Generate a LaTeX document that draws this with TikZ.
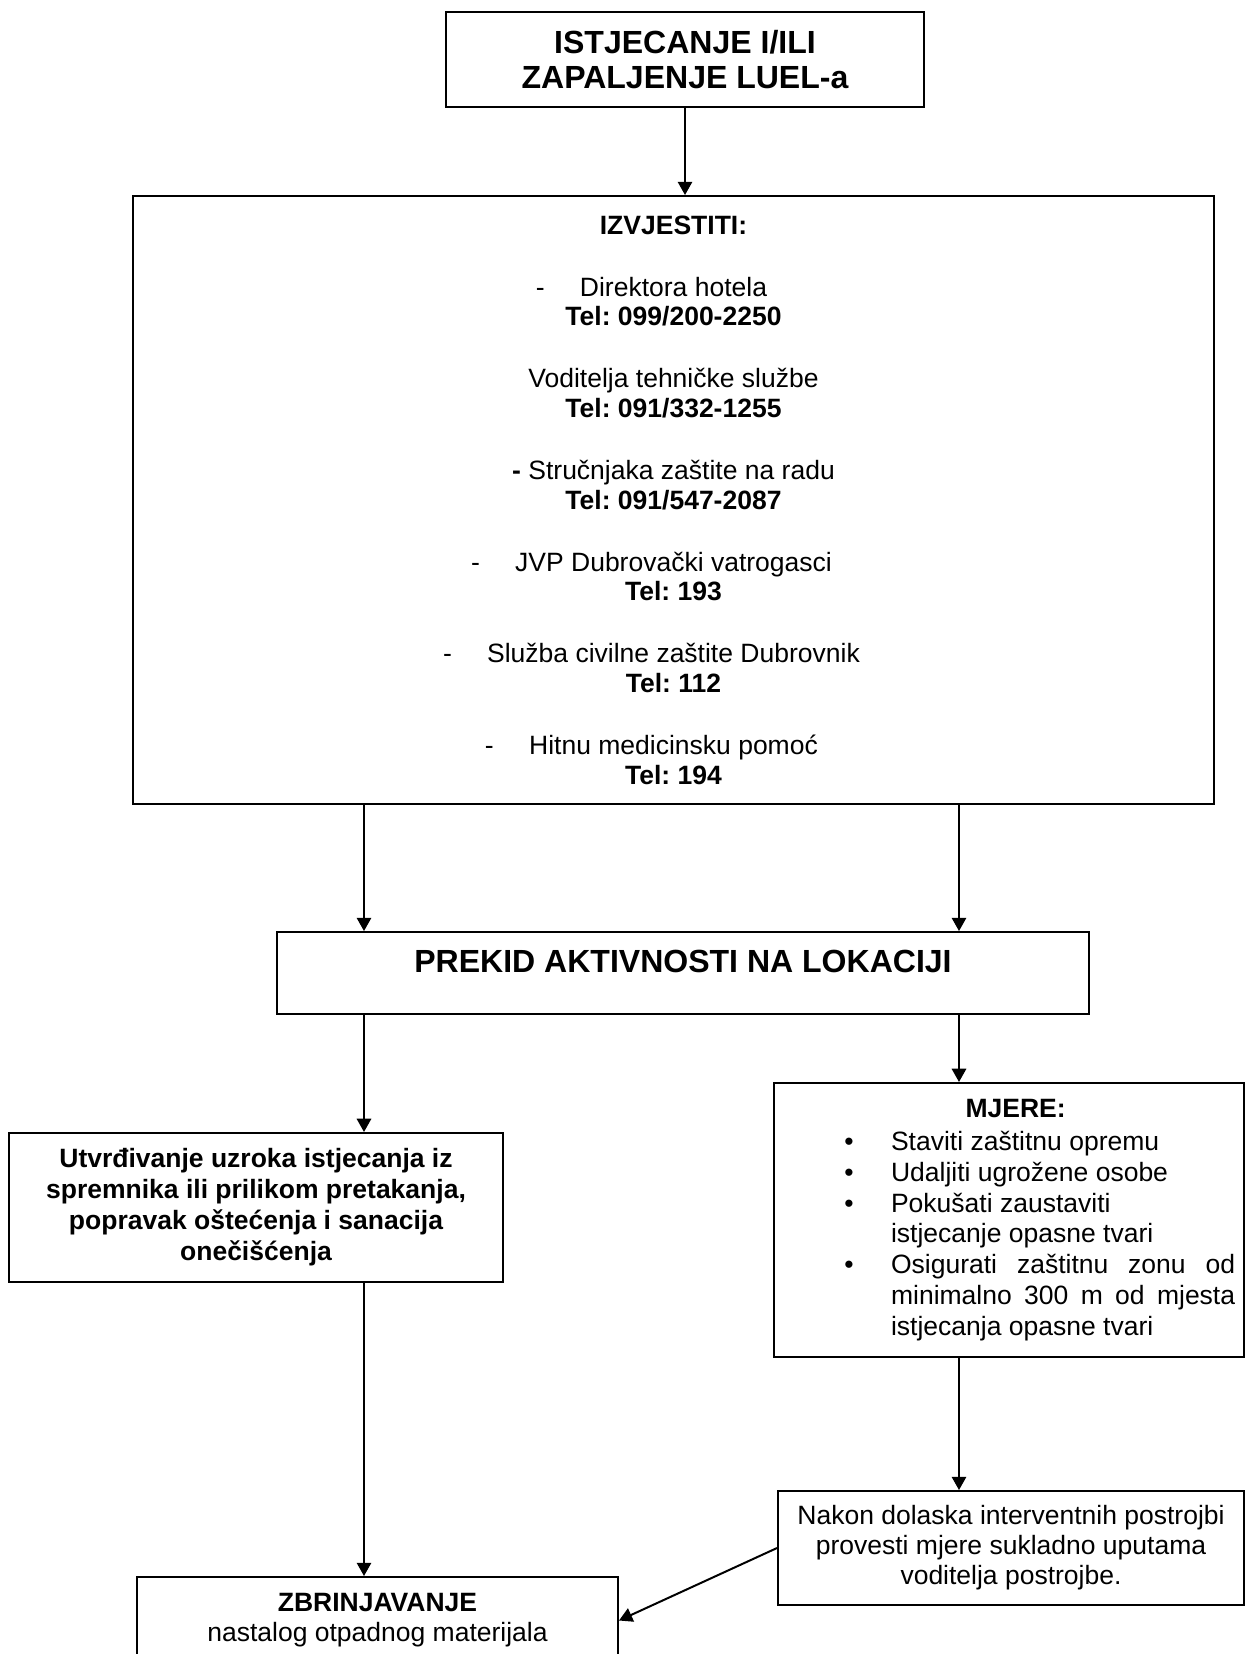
\documentclass[tikz,border=0pt]{standalone}
\usepackage{fontspec}
\setmainfont{Liberation Sans}
\usetikzlibrary{arrows.meta}
\frenchspacing

\newcommand{\crtica}{\llap{-\hspace{16pt}}}
\newcommand{\tocka}{\hspace*{53pt}\llap{\textbullet\hspace{17pt}}}
\newcommand{\poravnaj}[1]{\makebox[155.8pt][s]{#1}}

\begin{document}
\begin{tikzpicture}[x=0.4528pt,y=-0.4528pt,
    okvir/.style={draw,line width=0.9pt,inner sep=0pt,align=center,font=\fontsize{12}{13.6}\selectfont},
    strelica/.style={line width=0.9pt,-{Triangle[length=6pt,width=6.5pt]}}]
  \useasboundingbox (0,0) rectangle (1246,1654);
  \node[okvir,minimum width=216.4pt,minimum height=43pt,font=\fontsize{14.5}{15.9}\selectfont\bfseries] (naslov) at (685,59.5) {ISTJECANJE I/ILI\\ZAPALJENJE LUEL-a};
  \node[okvir,minimum width=489.5pt,minimum height=275.3pt,font=\fontsize{12}{13.4}\selectfont] (izvjestiti) at (673.5,500) {%
    \textbf{IZVJESTITI:}\\[14.7pt]
    \crtica Direktora hotela\\
    \textbf{Tel: 099/200-2250}\\[14.7pt]
    Voditelja tehničke službe\\
    \textbf{Tel: 091/332-1255}\\[14.7pt]
    \textbf{-} Stručnjaka zaštite na radu\\
    \textbf{Tel: 091/547-2087}\\[14.7pt]
    \crtica JVP Dubrovački vatrogasci\\
    \textbf{Tel: 193}\\[14.7pt]
    \crtica Služba civilne zaštite Dubrovnik\\
    \textbf{Tel: 112}\\[14.7pt]
    \crtica Hitnu medicinsku pomoć\\
    \textbf{Tel: 194}};
  \node[okvir,minimum width=367.7pt,minimum height=37.1pt,text depth=10.4pt,font=\fontsize{14.5}{16}\selectfont\bfseries] (prekid) at (683,973) {PREKID AKTIVNOSTI NA LOKACIJI};
  \node[okvir,minimum width=223.7pt,minimum height=67.5pt,font=\fontsize{12}{14}\selectfont\bfseries] (utvrdivanje) at (256,1207.5) {Utvrđivanje uzroka istjecanja iz\\spremnika ili prilikom pretakanja,\\popravak oštećenja i sanacija\\onečišćenja};
  \node[okvir,minimum width=212.8pt,minimum height=124.1pt,text width=212.8pt,align=flush left,font=\fontsize{12}{14}\selectfont] (mjere) at (1009,1220) {%
    \makebox[212.8pt]{\hspace{6pt}\bfseries MJERE:}\\[1pt]
    \tocka Staviti zaštitnu opremu\\
    \tocka Udaljiti ugrožene osobe\\
    \tocka Pokušati zaustaviti\\
    \hspace*{53pt}istjecanje opasne tvari\\
    \tocka\poravnaj{Osigurati zaštitnu zonu od}\\
    \hspace*{53pt}\poravnaj{minimalno 300 m od mjesta}\\
    \hspace*{53pt}istjecanja opasne tvari};
  \node[okvir,minimum width=211pt,minimum height=51.6pt] (nakon) at (1011,1548) {Nakon dolaska interventnih postrojbi\\provesti mjere sukladno uputama\\voditelja postrojbe.};
  \node[okvir,minimum width=217.8pt,minimum height=39.4pt] (zbrinjavanje) at (377.5,1620.5) {\textbf{ZBRINJAVANJE}\\nastalog otpadnog materijala};

  \coordinate (lijevo) at (364,0);
  \coordinate (desno) at (959,0);
  \draw[strelica] (naslov.south) -- (naslov.south |- izvjestiti.north);
  \draw[strelica] (izvjestiti.south -| lijevo) -- (prekid.north -| lijevo);
  \draw[strelica] (izvjestiti.south -| desno) -- (prekid.north -| desno);
  \draw[strelica] (prekid.south -| lijevo) -- (utvrdivanje.north -| lijevo);
  \draw[strelica] (prekid.south -| desno) -- (mjere.north -| desno);
  \draw[strelica] (mjere.south -| desno) -- (nakon.north -| desno);
  \draw[strelica] (utvrdivanje.south -| lijevo) -- (zbrinjavanje.north -| lijevo);
  \draw[strelica] (nakon.west) -- (zbrinjavanje.east);
\end{tikzpicture}
\end{document}
